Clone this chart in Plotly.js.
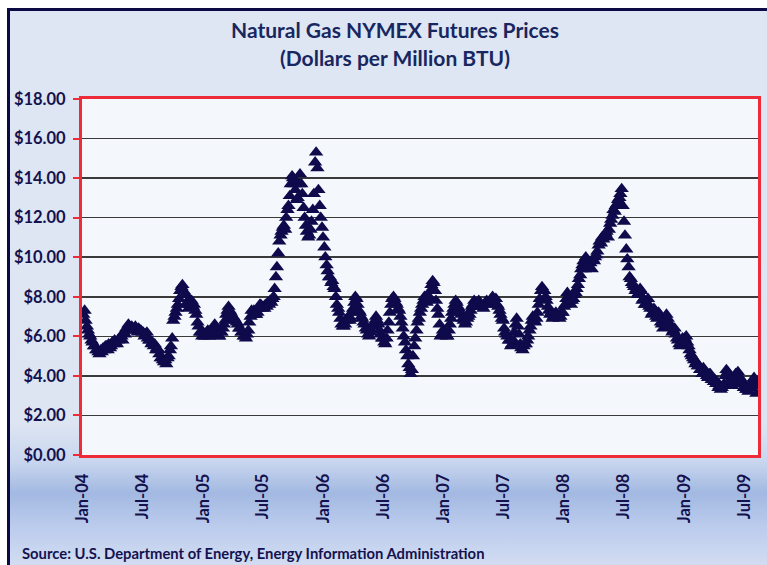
<!DOCTYPE html>
<html>
<head>
<meta charset="utf-8">
<script src="https://cdn.plot.ly/plotly-3.0.1.min.js"></script>
<style>
html,body{margin:0;padding:0;background:#ffffff;overflow:hidden;}
#wrap{position:relative;width:767px;height:565px;overflow:hidden;}
#bg{position:absolute;left:7px;top:8px;width:800px;height:600px;
  border-left:3px solid #0c0a45;border-top:3px solid #0c0a45;
  background:linear-gradient(to bottom,#dfe6f3 0px,#dde5f3 412px,#c9d6ee 450px,#a3b9e2 482px,#bccced 517px,#d4def2 557px);}
#chart{position:absolute;left:0;top:0;width:767px;height:565px;}
</style>
</head>
<body>
<div id="wrap"><div id="bg"></div><div id="chart"></div></div>
<script>
// First Friday / first Tuesday reading of each year; readings follow weekly from them
const fridayStarts  = ['2004-01-02','2005-01-07','2006-01-06','2007-01-05','2008-01-04','2009-01-02'];
const tuesdayStarts = ['2004-01-06','2005-01-11','2006-01-10','2007-01-09','2008-01-08','2009-01-06'];

// Friday prices ($ per million BTU)
const f2004 = [7.1,6.8,6.3,6.0,5.7, 5.5,5.3,5.1,5.2, 5.3,5.5,5.6,5.5, 5.6,5.7,5.8,5.9,5.8,
  6.1,6.3,6.5,6.5, 6.4,6.3,6.4,6.3, 6.2,6.1,5.9,5.8,5.7, 5.6,5.4,5.1,4.9, 4.7,4.6,5.0,5.5,
  6.8,7.2,7.6,8.3,8.6, 8.1,7.7,7.9,7.8, 7.6,7.1,6.5,6.2,6.2];
const f2005 = [6.0,6.3,6.1,6.4, 6.6,6.2,6.0,6.2, 6.6,7.1,7.5,7.2, 7.0,6.8,6.6,6.4,6.2,
  6.0,6.1,6.7,7.3, 7.3,7.1,7.4,7.6, 7.5,7.6,7.7,7.8,7.9, 8.4,9.5,10.8,11.3,
  11.6,12.0,12.6,13.7,14.0, 13.4,13.0,14.2,13.2, 12.0,11.3,11.1,11.8, 13.2,15.3,13.4,12.0,11.0];
const f2006 = [10.0,9.3,9.0,8.8, 8.4,7.6,7.2,6.6, 6.5,6.8,7.0,6.9,7.4, 8.0,7.6,7.2,6.9,
  6.6,6.3,6.0,6.3, 6.6,7.0,6.6,6.1,5.9, 5.6,6.3,7.2,7.9, 7.9,7.6,7.3,6.7,
  6.0,5.3,4.6,4.1,5.0, 5.9,6.7,7.2,7.6, 8.0,7.7,8.0,8.6, 8.7,7.8,7.1,6.0,6.3];
const f2007 = [6.2,6.0,6.6,7.2, 7.6,7.7,7.4,7.1, 6.8,6.7,7.0,7.3,7.6, 7.7,7.6,7.7,7.5,
  7.6,7.8,7.7,7.9, 7.9,7.9,7.5,7.1,6.8, 6.2,6.0,5.8,5.6, 6.2,6.9,6.1,5.4,5.5,
  5.6,6.0,6.5,7.0, 6.7,7.2,7.9,8.5, 8.3,7.8,7.3,7.2,7.0, 7.2,7.0,7.0,7.2];
const f2008 = [7.6,8.2,7.8,7.8, 8.1,8.4,8.9,9.4,9.8, 10.0,9.8,9.7,9.9, 10.0,10.3,10.8,11.0,
  11.1,11.3,11.4,11.9,12.4, 12.6,12.9,13.2,12.6, 11.1,9.9,9.0,8.7, 8.5,8.4,8.2,8.3,7.9,
  7.6,7.9,7.4,7.2, 7.3,6.9,7.1,6.6,6.8, 7.1,6.7,6.5,6.3, 6.1,5.8,5.5,5.9];
const f2009 = [5.9,5.7,5.3,5.0,4.8, 4.7,4.5,4.3,4.4, 4.2,3.9,4.1,3.9, 3.8,3.7,3.5,3.4,
  3.6,4.3,4.0,3.7,3.6, 4.1,4.2,3.9,3.7, 3.5,3.3,3.4,3.6,3.9, 3.1];

// Tuesday prices (the daily spread of the band)
const t2004 = [7.3,6.5,6.1,5.8,5.5, 5.3,5.2,5.3,5.4, 5.5,5.3,5.4,5.7, 5.8,5.6,5.9,6.0,6.2,
  6.4,6.6,6.4,6.3, 6.5,6.2,6.3,6.2, 6.0,6.2,5.8,5.6,5.5, 5.3,5.3,4.9,4.8, 4.8,4.9,5.3,5.9,
  7.0,7.4,7.9,8.5,8.3, 7.6,7.4,7.6,7.5, 7.3,6.7,6.2,6.0,6.0];
const t2005 = [6.2,6.0,6.2,6.1, 6.4,6.0,6.2,6.4, 6.8,7.3,7.3,7.0, 6.9,6.7,6.4,6.2,6.0,
  5.9,6.3,7.0,7.1, 7.1,7.2,7.6,7.4, 7.4,7.5,7.6,7.7,8.0, 9.0,10.2,11.1,11.5,
  11.4,12.4,13.1,14.1,13.7, 12.9,13.7,13.7,12.5, 11.6,11.0,11.4,12.4, 14.8,14.5,12.6,11.5,10.5];
const t2006 = [9.6,9.0,8.7,8.5, 8.0,7.4,6.9,6.5, 6.6,6.9,6.8,7.2,7.7, 7.9,7.3,7.0,6.7,
  6.4,6.1,6.2,6.5, 6.8,6.8,6.3,5.9,5.7, 5.9,6.7,7.6,8.0, 7.7,7.4,7.0,6.4,
  5.7,5.0,4.4,4.3,5.5, 6.3,6.9,7.4,7.8, 7.8,7.9,8.3,8.8, 8.3,7.4,6.6,6.1,6.1];
const t2007 = [6.0,6.3,6.9,7.4, 7.8,7.5,7.2,6.9, 6.6,6.9,7.1,7.5,7.8, 7.5,7.8,7.5,7.4,
  7.7,7.6,7.8,8.0, 7.7,7.6,7.3,6.9,6.4, 6.1,5.8,5.5,5.8, 6.6,6.5,5.6,5.3,5.6,
  5.8,6.3,6.8,6.8, 6.9,7.6,8.3,8.3, 8.0,7.5,7.1,6.9,7.1, 7.1,6.9,7.2,7.5];
const t2008 = [7.9,8.0,7.6,7.9, 8.2,8.6,9.1,9.6,9.4, 9.6,9.5,9.4,9.8, 10.1,10.6,10.7,10.9,
  11.2,11.0,11.7,12.1,12.3, 12.7,13.0,13.45,11.8, 10.4,9.5,8.9,8.6, 8.3,8.1,8.4,7.8,7.6,
  7.7,7.5,7.1,7.4, 7.0,7.2,6.7,6.4,6.9, 6.9,6.5,6.2,6.4, 5.9,5.6,5.7,5.8];
const t2009 = [6.0,5.5,5.1,4.9,4.6, 4.5,4.3,4.1,4.2, 4.0,4.1,3.8,3.7, 3.6,3.4,3.3,3.5,
  4.0,4.2,3.8,3.5,3.7, 4.0,3.8,3.6,3.4, 3.3,3.2,3.5,3.8,3.5];

const tickVals = ['2004-01-01','2004-07-01','2005-01-01','2005-07-01','2006-01-01','2006-07-01',
  '2007-01-01','2007-07-01','2008-01-01','2008-07-01','2009-01-01','2009-07-01'];
const tickText = ['Jan-04','Jul-04','Jan-05','Jul-05','Jan-06','Jul-06',
  'Jan-07','Jul-07','Jan-08','Jul-08','Jan-09','Jul-09'];

function weekly(start, n){
  const out = [];
  const t0 = Date.parse(start + 'T00:00:00Z');
  for (let i = 0; i < n; i++) out.push(new Date(t0 + i*7*86400000).toISOString().slice(0,10));
  return out;
}
const fri = [f2004, f2005, f2006, f2007, f2008, f2009];
const tue = [t2004, t2005, t2006, t2007, t2008, t2009];
let xs = [], ys = [];
fri.forEach((vals, k) => { xs = xs.concat(weekly(fridayStarts[k], vals.length)); ys = ys.concat(vals); });
tue.forEach((vals, k) => { xs = xs.concat(weekly(tuesdayStarts[k], vals.length)); ys = ys.concat(vals); });

const navy = '#14124e';
const red = '#ee2b39';
const trace = {
  x: xs, y: ys, type: 'scatter', mode: 'markers', hoverinfo: 'skip',
  marker: {symbol: 'triangle-up', size: 12.5, color: '#0e0a4b', line: {width: 0}}
};
const layout = {
  width: 767, height: 565,
  margin: {l: 82, r: 9, t: 99, b: 110},
  paper_bgcolor: 'rgba(0,0,0,0)', plot_bgcolor: '#f4f7fb',
  showlegend: false,
  title: {
    text: 'Natural Gas NYMEX Futures Prices<br>(Dollars per Million BTU)',
    font: {family: 'Lato', size: 21, color: '#182760', weight: 700},
    x: 0.515, xref: 'container', xanchor: 'center',
    y: 0.932, yref: 'container', yanchor: 'middle'
  },
  xaxis: {
    type: 'date', range: ['2003-12-29', '2009-08-12'],
    tickvals: tickVals, ticktext: tickText, tickangle: -90,
    tickfont: {family: 'Lato', size: 16.5, color: navy, weight: 700},
    ticklabelstandoff: 9,
    showgrid: false, zeroline: false, ticks: '',
    showline: true, mirror: true, linecolor: red, linewidth: 3
  },
  yaxis: {
    range: [0, 18], tick0: 0, dtick: 2, tickformat: '$.2f',
    tickfont: {family: 'Lato', size: 16.5, color: navy, weight: 700},
    ticklabelstandoff: 4,
    showgrid: true, gridcolor: '#3a3a3a', gridwidth: 1.5, zeroline: false,
    ticks: 'outside', ticklen: 6, tickwidth: 2, tickcolor: red,
    showline: true, mirror: true, linecolor: red, linewidth: 3
  },
  annotations: [{
    text: 'Source: U.S. Department of Energy, Energy Information Administration',
    xref: 'paper', yref: 'paper', x: -0.0917, y: -0.275, xanchor: 'left', yanchor: 'middle',
    showarrow: false, font: {family: 'Lato', size: 14.8, color: navy, weight: 700}
  }]
};
Plotly.newPlot('chart', [trace], layout, {staticPlot: true, displayModeBar: false});
</script>
</body>
</html>
